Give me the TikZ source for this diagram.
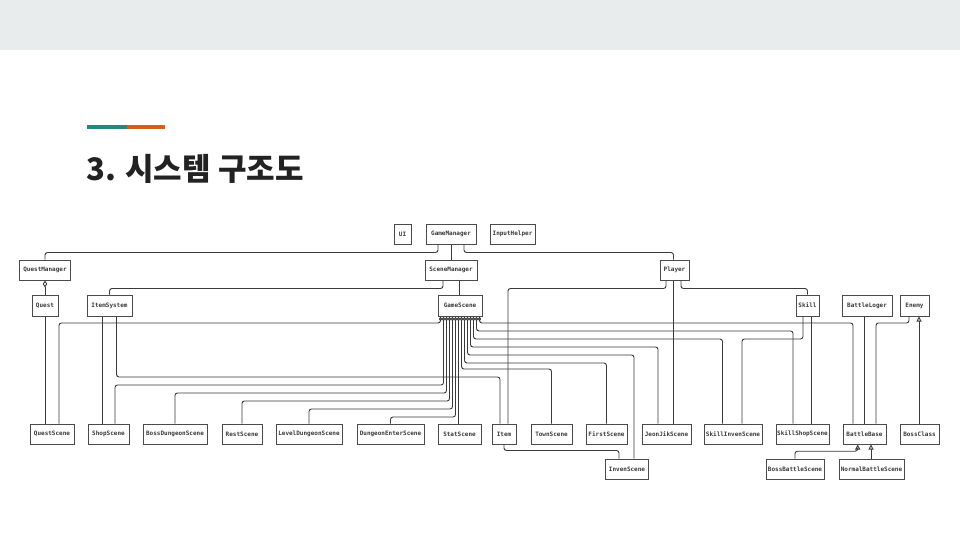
\documentclass[tikz,border=0pt]{standalone}
\usepackage{fontspec}
\newfontfamily\kr{Noto Sans CJK KR}
\newfontfamily\monof{DejaVu Sans Mono}
\usetikzlibrary{arrows.meta,calc}
\definecolor{bandc}{HTML}{E8ECEC}
\definecolor{accT}{HTML}{1F8B7F}
\definecolor{accO}{HTML}{D6601A}
\definecolor{titlec}{HTML}{222222}
\definecolor{boxc}{HTML}{4A4A4A}
\definecolor{linec}{HTML}{3A3A3A}
\definecolor{txtc}{HTML}{3A3A3A}
\tikzset{
  cls/.style={draw=boxc, line width=1pt, fill=white, minimum height=20pt, inner sep=0pt,
    font=\monof\bfseries\fontsize{6}{7}\selectfont, text=txtc},
  conn/.style={draw=linec, line width=0.9pt, rounded corners=2.5pt},
  agg/.style={arrows={Diamond[open,length=5pt,width=3.2pt]-}},
  aggbig/.style={arrows={Diamond[open,length=7pt,width=4.5pt]-}},
  inh/.style={arrows={-Triangle[open,length=5pt,width=5pt]}},
}
\begin{document}
\begin{tikzpicture}[x=1pt,y=-1pt]
\useasboundingbox (0,0) rectangle (960,540);
\fill[white] (0,0) rectangle (960,540);
\fill[bandc] (0,0) rectangle (960,50);
\fill[accT] (87,125) rectangle (127,129.5);
\fill[accO] (127,125) rectangle (165,129.5);
\node[anchor=base west, inner sep=0pt, text=titlec, font=\kr\bfseries\fontsize{31}{37}\selectfont] (title) at (86,180.5) {3. 시스템 구조도};

% row 1
\node[cls,minimum width=17pt] (ui) at (402.5,234) {UI};
\node[cls,minimum width=50pt] (gm) at (451,234) {GameManager};
\node[cls,minimum width=45pt] (ih) at (512.5,234) {InputHelper};
% row 2
\node[cls,minimum width=51pt] (qm) at (45,270) {QuestManager};
\node[cls,minimum width=52pt] (sm) at (451,270) {SceneManager};
\node[cls,minimum width=29pt] (pl) at (674.5,270) {Player};
% row 3
\node[cls,minimum width=26pt,minimum height=21pt] (qu) at (45,305.5) {Quest};
\node[cls,minimum width=45pt,minimum height=21pt] (is) at (109.5,305.5) {ItemSystem};
\node[cls,minimum width=44pt,minimum height=21pt] (gs) at (460,305.5) {GameScene};
\node[cls,minimum width=23pt,minimum height=21pt] (sk) at (807.5,305.5) {Skill};
\node[cls,minimum width=50pt,minimum height=21pt] (bl) at (867,305.5) {BattleLoger};
\node[cls,minimum width=29pt,minimum height=21pt] (en) at (914.5,305.5) {Enemy};
% row 4
\node[cls,minimum width=44pt] (qs) at (52,434) {QuestScene};
\node[cls,minimum width=41pt] (ss) at (108.5,434) {ShopScene};
\node[cls,minimum width=64pt] (bds) at (175,434) {BossDungeonScene};
\node[cls,minimum width=40pt] (rs) at (242,434) {RestScene};
\node[cls,minimum width=66pt] (lds) at (309,434) {LevelDungeonScene};
\node[cls,minimum width=67pt] (des) at (390.5,434) {DungeonEnterScene};
\node[cls,minimum width=43pt] (sts) at (459.5,434) {StatScene};
\node[cls,minimum width=24pt] (it) at (504,434) {Item};
\node[cls,minimum width=41pt] (ts) at (551.5,434) {TownScene};
\node[cls,minimum width=41pt] (fs) at (606.5,434) {FirstScene};
\node[cls,minimum width=49pt] (jj) at (666.5,434) {JeonJikScene};
\node[cls,minimum width=58pt] (sis) at (733,434) {SkillInvenScene};
\node[cls,minimum width=53pt] (sss) at (802.5,434) {SkillShopScene};
\node[cls,minimum width=43pt] (bb) at (864.5,434) {BattleBase};
\node[cls,minimum width=39pt] (bc) at (919.5,434) {BossClass};
% row 5
\node[cls,minimum width=43pt] (inv) at (627,469) {InvenScene};
\node[cls,minimum width=58pt] (bbs) at (795,469) {BossBattleScene};
\node[cls,minimum width=65pt] (nbs) at (871.5,469) {NormalBattleScene};

% GameManager
\draw[conn] ([xshift=-13pt]gm.south) -- ++(0,8) -| (qm.north);
\draw[conn] (gm.south) -- (sm.north);
\draw[conn] ([xshift=13pt]gm.south) -- ++(0,8) -| ([xshift=-1pt]pl.north);
% QuestManager
\draw[conn,aggbig] (qm.south) -- (qu.north);
% SceneManager
\coordinate (smr) at ([xshift=8.5pt]sm.south);
\draw[conn] ([xshift=-8pt]sm.south) -- ++(0,8) -| (is.north);
\draw[conn] (smr) -- (smr |- gs.north);
% Player
\coordinate (plc) at ([xshift=-1pt]pl.south);
\draw[conn] ([xshift=-8.5pt]pl.south) -- ++(0,8) -| ([xshift=4pt]it.north);
\draw[conn] (plc) -- (plc |- jj.north);
\draw[conn] ([xshift=6.5pt]pl.south) -- ++(0,8) -| (sk.north);
% Quest
\draw[conn] (qu.south) -- (qu.south |- qs.north);
% ItemSystem
\coordinate (isl) at ([xshift=-7.5pt]is.south);
\coordinate (isr) at ([xshift=7pt]is.south);
\draw[conn] (isl) -- (isl |- ss.north);
\draw[conn] (isr) -- (isr |- 0,377) -| ([xshift=-4pt]it.north);
% Skill
\coordinate (skr) at ([xshift=3.5pt]sk.south);
\coordinate (skl) at ([xshift=-4.5pt]sk.south);
\draw[conn] (skr) -- (skr |- sss.north);
\draw[conn] (skl) -- (skl |- 0,339) -| ([xshift=9pt]sis.north);
% BattleLoger, Enemy, BossClass
\coordinate (blc) at ([xshift=-3pt]bl.south);
\draw[conn] (blc) -- (blc |- bb.north);
\coordinate (enl) at ([xshift=-5.5pt]en.south);
\draw[conn] (enl) -- (enl |- 0,323) -| ([xshift=11.5pt]bb.north);
\coordinate (bcc) at ([xshift=-0.5pt]bc.north);
\draw[conn,inh] (bcc) -- (bcc |- en.south);
% Item -> InvenScene
\draw[conn] (it.south) -- ++(0,6) -| ([xshift=-8pt]inv.north);
% Battle scenes
\draw[conn,inh] (bbs.north) -- ++(0,-7.3) -| ([xshift=-6.8pt]bb.south);
\coordinate (nbc) at ([xshift=-0.5pt]nbs.north);
\draw[conn,inh] (nbc) -- (nbc |- bb.south);

% GameScene fan
\coordinate (g0) at ([xshift=-19.5pt]gs.south);
\coordinate (g1) at ([xshift=-16.5pt]gs.south);
\coordinate (g2) at ([xshift=-13.5pt]gs.south);
\coordinate (g3) at ([xshift=-10.5pt]gs.south);
\coordinate (g4) at ([xshift=-7.5pt]gs.south);
\coordinate (g5) at ([xshift=-4.5pt]gs.south);
\coordinate (g6) at ([xshift=-1.5pt]gs.south);
\coordinate (g7) at ([xshift=1.5pt]gs.south);
\coordinate (g8) at ([xshift=4.5pt]gs.south);
\coordinate (g9) at ([xshift=7.5pt]gs.south);
\coordinate (g10) at ([xshift=10.5pt]gs.south);
\coordinate (g11) at ([xshift=13.5pt]gs.south);
\coordinate (g12) at ([xshift=16.5pt]gs.south);
\coordinate (g13) at ([xshift=19.5pt]gs.south);
\draw[conn,agg] (g0) -- (g0 |- 0,323) -| ([xshift=7pt]qs.north);
\draw[conn,agg] (g1) -- (g1 |- 0,385) -| ([xshift=6.5pt]ss.north);
\draw[conn,agg] (g2) -- (g2 |- 0,393) -| (bds.north);
\draw[conn,agg] (g3) -- (g3 |- 0,401) -| (rs.north);
\draw[conn,agg] (g4) -- (g4 |- 0,409) -| (lds.north);
\draw[conn,agg] (g5) -- (g5 |- 0,417) -| (des.north);
\draw[conn,agg] (g6) -- (g6 |- sts.north);
\draw[conn,agg] (g7) -- (g7 |- 0,369) -| (ts.north);
\draw[conn,agg] (g8) -- (g8 |- 0,363) -| (fs.north);
\draw[conn,agg] (g9) -- (g9 |- 0,355) -| ([xshift=7pt]inv.north);
\draw[conn,agg] (g10) -- (g10 |- 0,347) -| ([xshift=-8.5pt]jj.north);
\draw[conn,agg] (g11) -- (g11 |- 0,339) -| ([xshift=-10.5pt]sis.north);
\draw[conn,agg] (g12) -- (g12 |- 0,331) -| ([xshift=-9.5pt]sss.north);
\draw[conn,agg] (g13) -- (g13 |- 0,323) -| ([xshift=-11.5pt]bb.north);
\end{tikzpicture}
\end{document}
